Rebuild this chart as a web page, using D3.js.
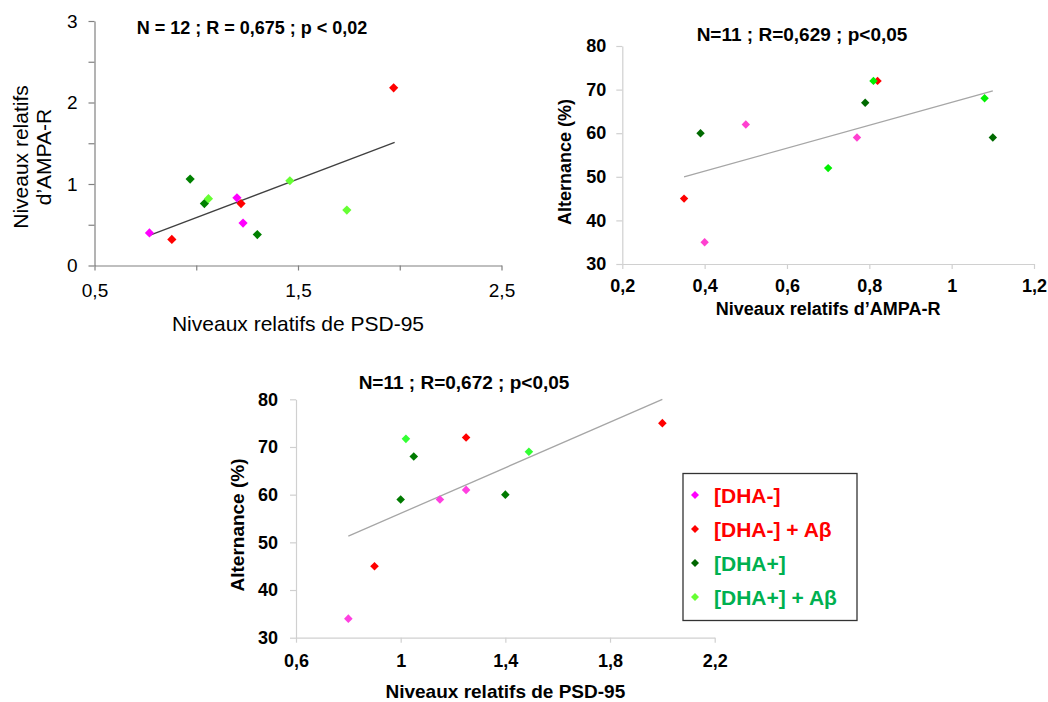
<!DOCTYPE html>
<html>
<head>
<meta charset="utf-8">
<script src="https://cdn.jsdelivr.net/npm/d3@7"></script>
<style>
html,body{margin:0;padding:0;background:#fff;}
svg{display:block;font-family:"Liberation Sans",Arial,sans-serif;}
</style>
</head>
<body>
<svg id="chart" width="1048" height="702"></svg>
<script>
// ---------- DATA ----------
const groups = ["[DHA-]", "[DHA-] + Aβ", "[DHA+]", "[DHA+] + Aβ"];

// Chart 1 : AMPA-R vs PSD-95
const c1_psd95 = [0.77, 0.88, 0.97, 1.04, 1.30, 1.20, 1.22, 1.23, 1.06, 1.46, 1.74, 1.97];
const c1_ampa  = [0.40, 0.32, 1.06, 0.76, 0.38, 0.83, 0.76, 0.52, 0.82, 1.04, 0.68, 2.18];
const c1_group = [0, 1, 2, 2, 2, 0, 1, 0, 3, 3, 3, 1];
const c1_trend = [[0.77, 0.37], [1.975, 1.51]];
const c1_xTicks = [0.5, 1, 1.5, 2, 2.5];
const c1_xLabels = ["0,5", "", "1,5", "", "2,5"];
const c1_yTicks = [0, 0.5, 1, 1.5, 2, 2.5, 3];
const c1_yLabels = ["0", "", "1", "", "2", "", "3"];
const c1_title = "N = 12 ; R = 0,675 ; p < 0,02";

// Chart 2 : Alternance vs AMPA-R
const c2_ampa  = [0.40, 0.50, 0.77, 0.35, 0.82, 0.39, 0.79, 1.10, 0.70, 0.81, 1.08];
const c2_alt   = [35, 62, 59, 45, 72, 60, 67, 59, 52, 72, 68];
const c2_group = [0, 0, 0, 1, 1, 2, 2, 2, 3, 3, 3];
const c2_trend = [[0.35, 50.0], [1.10, 69.7]];
const c2_xTicks = [0.2, 0.4, 0.6, 0.8, 1.0, 1.2];
const c2_xLabels = ["0,2", "0,4", "0,6", "0,8", "1", "1,2"];
const c2_yTicks = [30, 40, 50, 60, 70, 80];
const c2_yLabels = ["30", "40", "50", "60", "70", "80"];
const c2_title = "N=11 ; R=0,629 ; p<0,05";

// Chart 3 : Alternance vs PSD-95
const c3_psd95 = [0.80, 1.15, 1.25, 0.90, 1.25, 2.00, 1.00, 1.05, 1.40, 1.02, 1.49];
const c3_alt   = [34, 59, 61, 45, 72, 75, 59, 68, 60, 71.7, 69];
const c3_group = [0, 0, 0, 1, 1, 1, 2, 2, 2, 3, 3];
const c3_trend = [[0.80, 51.3], [2.00, 80.0]];
const c3_xTicks = [0.6, 1.0, 1.4, 1.8, 2.2];
const c3_xLabels = ["0,6", "1", "1,4", "1,8", "2,2"];
const c3_yTicks = [30, 40, 50, 60, 70, 80];
const c3_yLabels = ["30", "40", "50", "60", "70", "80"];
const c3_title = "N=11 ; R=0,672 ; p<0,05";

// ---------- DRAWING ----------
const svg = d3.select("#chart");

function diamond(r) {
  return `M0,${-r}L${r},0L0,${r}L${-r},0Z`;
}

function drawChart(o) {
  const x = d3.scaleLinear().domain(o.xDomain).range([o.left, o.right]);
  const y = d3.scaleLinear().domain(o.yDomain).range([o.bottom, o.top]);
  const g = svg.append("g");

  const xAxis = d3.axisBottom(x).tickValues(o.xTicks)
    .tickFormat((d, i) => o.xLabels[i]).tickSize(5).tickSizeOuter(0).tickPadding(o.xPad);
  const yAxis = d3.axisLeft(y).tickValues(o.yTicks)
    .tickFormat((d, i) => o.yLabels[i]).tickSize(6).tickSizeOuter(0).tickPadding(o.yPad);

  const gx = g.append("g").attr("transform", `translate(0,${o.bottom})`).call(xAxis);
  const gy = g.append("g").attr("transform", `translate(${o.left},0)`).call(yAxis);
  [gx, gy].forEach(a => {
    a.select(".domain").attr("stroke", o.axisColor).attr("stroke-width", 1.2);
    a.selectAll(".tick line").attr("stroke", o.axisColor).attr("stroke-width", 1.2);
    a.selectAll(".tick text").attr("fill", "#000")
      .style("font-size", o.tickFont + "px").style("font-weight", o.tickWeight)
      .style("font-family", "'Liberation Sans',Arial,sans-serif");
  });

  // trend line
  g.append("line")
    .attr("x1", x(o.trend[0][0])).attr("y1", y(o.trend[0][1]))
    .attr("x2", x(o.trend[1][0])).attr("y2", y(o.trend[1][1]))
    .attr("stroke", o.trendColor).attr("stroke-width", 1.3);

  // points, drawn series by series
  const pts = o.xs.map((v, i) => ({x: v, y: o.ys[i], g: o.gs[i]}));
  pts.sort((a, b) => a.g - b.g);
  g.selectAll("path.pt").data(pts).enter().append("path")
    .attr("class", "pt")
    .attr("d", diamond(o.r))
    .attr("transform", d => `translate(${x(d.x)},${y(d.y)})`)
    .attr("fill", d => o.colors[d.g]);

  // title
  g.append("text").attr("x", o.titleX).attr("y", o.titleY)
    .attr("text-anchor", "middle").style("font-size", o.titleFont + "px")
    .style("font-weight", "bold").text(o.title);

  // x axis title
  g.append("text").attr("x", (o.left + o.right) / 2).attr("y", o.xTitleY)
    .attr("text-anchor", "middle").style("font-size", o.axisTitleFont + "px")
    .style("font-weight", o.axisTitleWeight).text(o.xTitle);

  // y axis title (possibly multi-line)
  const yt = g.append("text")
    .attr("transform", `translate(${o.yTitleX},${o.yTitleY}) rotate(-90)`)
    .attr("text-anchor", "middle").style("font-size", o.axisTitleFont + "px")
    .style("font-weight", o.axisTitleWeight);
  o.yTitle.forEach((line, i) => {
    yt.append("tspan").attr("x", 0).attr("y", i * o.yTitleLH).text(line);
  });
}

drawChart({
  xDomain: [0.5, 2.5], yDomain: [0, 3],
  left: 94.5, right: 501.5, top: 21, bottom: 265.5,
  xTicks: c1_xTicks, xLabels: c1_xLabels, yTicks: c1_yTicks, yLabels: c1_yLabels,
  xPad: 13, yPad: 11, tickFont: 19, tickWeight: "normal",
  axisColor: "#808080", trendColor: "#404040",
  xs: c1_psd95, ys: c1_ampa, gs: c1_group, trend: c1_trend, r: 4.6,
  colors: ["#ff00ff", "#ff0000", "#008000", "#66ff33"],
  title: c1_title, titleX: 252, titleY: 34, titleFont: 18,
  xTitle: "Niveaux relatifs de PSD-95", xTitleY: 331, axisTitleFont: 21, axisTitleWeight: "normal",
  yTitle: ["Niveaux relatifs", "d’AMPA-R"], yTitleX: 28, yTitleY: 157, yTitleLH: 23
});

drawChart({
  xDomain: [0.2, 1.2], yDomain: [30, 80],
  left: 622.3, right: 1034, top: 46, bottom: 264,
  xTicks: c2_xTicks, xLabels: c2_xLabels, yTicks: c2_yTicks, yLabels: c2_yLabels,
  xPad: 10, yPad: 10, tickFont: 18, tickWeight: "bold",
  axisColor: "#d0d0d0", trendColor: "#a6a6a6",
  xs: c2_ampa, ys: c2_alt, gs: c2_group, trend: c2_trend, r: 4.2,
  colors: ["#ff40d0", "#ff0000", "#006a00", "#00f000"],
  title: c2_title, titleX: 802, titleY: 41, titleFont: 19,
  xTitle: "Niveaux relatifs d’AMPA-R", xTitleY: 315, axisTitleFont: 18, axisTitleWeight: "bold",
  yTitle: ["Alternance (%)"], yTitleX: 571, yTitleY: 162, yTitleLH: 0
});

drawChart({
  xDomain: [0.6, 2.2], yDomain: [30, 80],
  left: 296, right: 714.7, top: 399.3, bottom: 637.7,
  xTicks: c3_xTicks, xLabels: c3_xLabels, yTicks: c3_yTicks, yLabels: c3_yLabels,
  xPad: 12, yPad: 12, tickFont: 18, tickWeight: "bold",
  axisColor: "#d0d0d0", trendColor: "#a6a6a6",
  xs: c3_psd95, ys: c3_alt, gs: c3_group, trend: c3_trend, r: 4.3,
  colors: ["#ff40e0", "#ff0000", "#007a00", "#33ff33"],
  title: c3_title, titleX: 464, titleY: 389, titleFont: 19,
  xTitle: "Niveaux relatifs de PSD-95", xTitleY: 698, axisTitleFont: 19, axisTitleWeight: "bold",
  yTitle: ["Alternance (%)"], yTitleX: 244, yTitleY: 525, yTitleLH: 0
});

// ---------- LEGEND ----------
const legendColors = ["#ff00ff", "#ff0000", "#006600", "#66ff33"];
const legendTextColors = ["#ff0000", "#ff0000", "#00b050", "#00b050"];
const leg = svg.append("g");
leg.append("rect").attr("x", 683).attr("y", 473.5).attr("width", 174).attr("height", 147)
  .attr("fill", "#fff").attr("stroke", "#333").attr("stroke-width", 1.3);
const rowY = d3.scalePoint().domain(d3.range(groups.length)).range([495, 597]);
groups.forEach((name, i) => {
  leg.append("path").attr("d", diamond(4))
    .attr("transform", `translate(695,${rowY(i)})`).attr("fill", legendColors[i]);
  leg.append("text").attr("x", 714).attr("y", rowY(i) + 8)
    .style("font-size", "21px").style("font-weight", "bold")
    .attr("fill", legendTextColors[i]).text(name);
});
</script>
</body>
</html>
